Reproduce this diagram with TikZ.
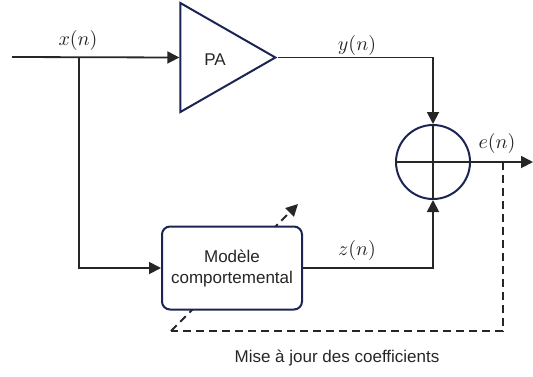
\documentclass[tikz,border=0pt]{standalone}
\usepackage{amsmath}
\usepackage{fontspec}
\setsansfont{Liberation Sans}
\usepackage{xcolor}
\usepackage{tikz}
\usetikzlibrary{arrows.meta, shapes.geometric, positioning, calc}

\definecolor{navy}{HTML}{1B2452}

\begin{document}
\begin{tikzpicture}[
		x=0.5pt, y=-0.5pt,
		every node/.style={font=\sffamily\fontsize{8.5}{10.5}\selectfont, text=black!85},
		amp/.style={draw=navy, line width=1pt, isosceles triangle, isosceles triangle stretches,
			shape border rotate=0, minimum width=109*0.5pt, minimum height=95*0.5pt, inner sep=0pt},
		sum/.style={draw=navy, line width=1pt, circle, minimum size=74*0.5pt, inner sep=0pt},
		block/.style={draw=navy, line width=1pt, rounded corners=4pt, fill=white, align=center,
			minimum width=140*0.5pt, minimum height=83*0.5pt},
		sig/.style={line width=0.9pt, black!85},
		flow/.style={sig, -{Triangle[length=6pt, width=6pt]}},
		update/.style={line width=0.9pt, black!85, dash pattern=on 4pt off 2.5pt},
		lbl/.style={font=\normalsize}
		]
		\useasboundingbox (0,0) rectangle (533,376);
		
		% Blocks
		\node[amp, anchor=apex] (pa) at (278,57.5) {};
		\node at (215,60) (pa-txt) {PA};
		\node[sum] (sum) at (433,162) {};
		
		% Points
		\coordinate (in) at (12,57);
		\coordinate (split) at (79,57);
		\coordinate (out) at (533,162);
		\coordinate (tap) at (503,162);
		\coordinate (low) at (503,331);
		\coordinate (tail) at (171,331);
		\coordinate (head) at (298,204);
		
		% Adaptation path (under the model block)
		\draw[update] (tap) -- (low) -- (tail);
		\draw[update, -{Triangle[length=6pt, width=6pt]}] (tail) -- (head);
		
		\node[block] (model) at (232,268) {Modèle\\comportemental};
		
		% Direct path
		\draw[flow] (in) -- (pa.west);
		\draw[flow] (pa.apex) -| (sum.north);
		
		% Model path
		\draw[flow] (split) |- (model.west);
		\draw[flow] (model.east) -| (sum.south);
		
		% Adder
		\draw[sig] (sum.west) -- (sum.east);
		\draw[sig] (sum.north) -- (sum.south);
		\draw[flow] (sum.east) -- (out);
		
		% Labels
		\node[lbl] (x-lbl) at (78,40) {$x(n)$};
		\node[lbl] (y-lbl) at (357,45) {$y(n)$};
		\node[lbl] (z-lbl) at (357,250) {$z(n)$};
		\node[lbl] (e-lbl) at (497,143) {$e(n)$};
		\node (maj) at (337,358) {Mise à jour des coefficients};
		
	\end{tikzpicture}
\end{document}
